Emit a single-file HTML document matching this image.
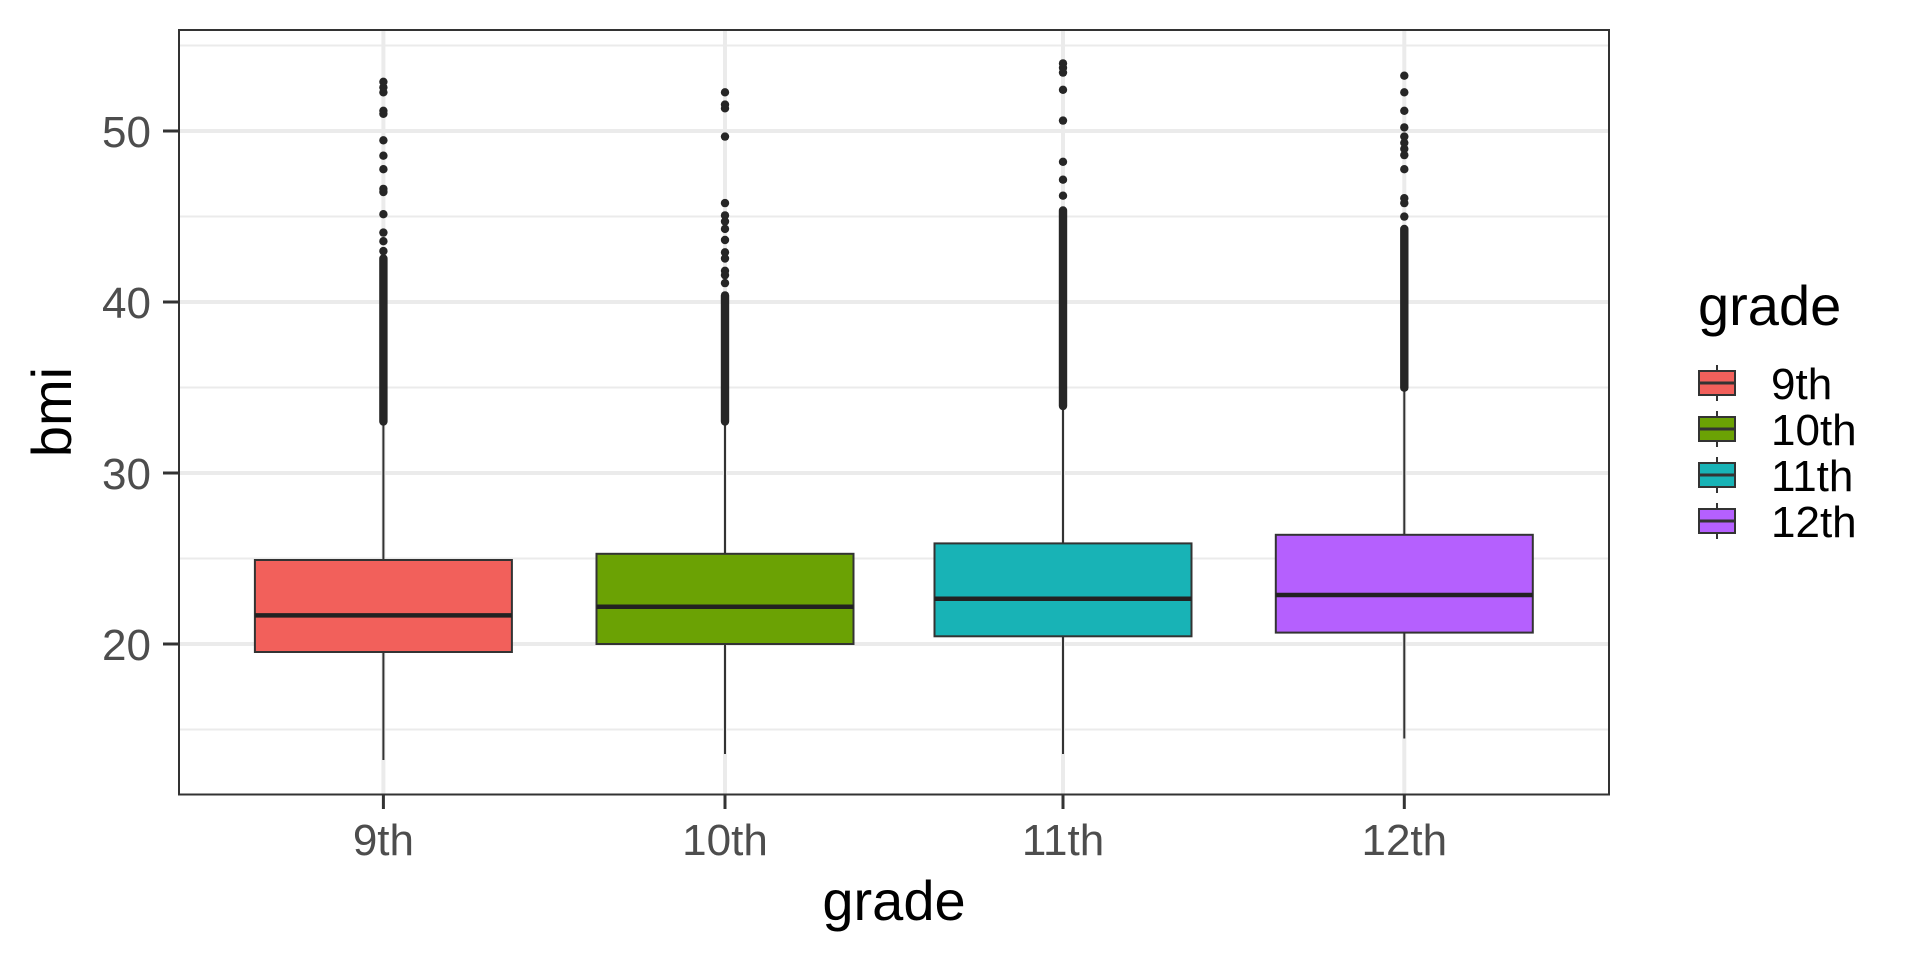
<!DOCTYPE html>
<html><head><meta charset="utf-8"><style>html,body{margin:0;padding:0;background:#fff}svg{display:block}</style></head><body>
<svg width="1920" height="960" xmlns="http://www.w3.org/2000/svg" font-family="Liberation Sans, Arial, sans-serif">
<rect width="1920" height="960" fill="#fff"/>
<g stroke="#ebebeb" stroke-width="2">
<line x1="179" x2="1609" y1="45.5" y2="45.5"/><line x1="179" x2="1609" y1="216.5" y2="216.5"/><line x1="179" x2="1609" y1="387.5" y2="387.5"/><line x1="179" x2="1609" y1="558.5" y2="558.5"/><line x1="179" x2="1609" y1="729.5" y2="729.5"/>
</g>
<g stroke="#ebebeb" stroke-width="4">
<line x1="179" x2="1609" y1="131" y2="131"/><line x1="179" x2="1609" y1="302" y2="302"/><line x1="179" x2="1609" y1="473" y2="473"/><line x1="179" x2="1609" y1="644" y2="644"/>
<line y1="30" y2="794" x1="383.4" x2="383.4"/><line y1="30" y2="794" x1="725" x2="725"/><line y1="30" y2="794" x1="1063" x2="1063"/><line y1="30" y2="794" x1="1404.3" x2="1404.3"/>
</g>
<g stroke="#333" stroke-width="2">
<line x1="383.4" x2="383.4" y1="424.6" y2="760"/>
<line x1="725" x2="725" y1="418.5" y2="754"/>
<line x1="1063" x2="1063" y1="406" y2="754"/>
<line x1="1404.3" x2="1404.3" y1="387.7" y2="738.5"/>
</g>
<g stroke="#333" stroke-width="2">
<rect x="254.9" y="560" width="257" height="92" fill="#F2605B"/>
<rect x="596.5" y="553.8" width="257" height="90.2" fill="#6BA204"/>
<rect x="934.5" y="543.4" width="257" height="92.9" fill="#18B3B6"/>
<rect x="1275.8" y="534.8" width="257" height="97.8" fill="#B560FE"/>
</g>
<g stroke="#222" stroke-width="4.5">
<line x1="254.9" x2="511.9" y1="615.4" y2="615.4"/>
<line x1="596.5" x2="853.5" y1="606.8" y2="606.8"/>
<line x1="934.5" x2="1191.5" y1="598.8" y2="598.8"/>
<line x1="1275.8" x2="1532.8" y1="595" y2="595"/>
</g>
<g stroke="#262626" stroke-width="8.4" stroke-linecap="round">
<line x1="383.4" x2="383.4" y1="258.5" y2="421.5"/>
<line x1="725" x2="725" y1="295.4" y2="421.5"/>
<line x1="1063" x2="1063" y1="210.5" y2="406"/>
<line x1="1404.3" x2="1404.3" y1="229" y2="387.7"/>
</g>
<g fill="#262626">
<circle cx="383.4" cy="81.8" r="4.2"/><circle cx="383.4" cy="87.4" r="4.2"/><circle cx="383.4" cy="92.3" r="4.2"/><circle cx="383.4" cy="110.8" r="4.2"/><circle cx="383.4" cy="113.8" r="4.2"/><circle cx="383.4" cy="140.3" r="4.2"/><circle cx="383.4" cy="155.7" r="4.2"/><circle cx="383.4" cy="169.2" r="4.2"/><circle cx="383.4" cy="188.9" r="4.2"/><circle cx="383.4" cy="192" r="4.2"/><circle cx="383.4" cy="214.2" r="4.2"/><circle cx="383.4" cy="232.6" r="4.2"/><circle cx="383.4" cy="241.2" r="4.2"/><circle cx="383.4" cy="251.1" r="4.2"/>
<circle cx="725" cy="92.3" r="4.2"/><circle cx="725" cy="104.6" r="4.2"/><circle cx="725" cy="108.3" r="4.2"/><circle cx="725" cy="136.6" r="4.2"/><circle cx="725" cy="203.1" r="4.2"/><circle cx="725" cy="215.4" r="4.2"/><circle cx="725" cy="221.5" r="4.2"/><circle cx="725" cy="228.9" r="4.2"/><circle cx="725" cy="240" r="4.2"/><circle cx="725" cy="252.3" r="4.2"/><circle cx="725" cy="258.5" r="4.2"/><circle cx="725" cy="270.8" r="4.2"/><circle cx="725" cy="275.1" r="4.2"/><circle cx="725" cy="283.1" r="4.2"/>
<circle cx="1063" cy="63.4" r="4.2"/><circle cx="1063" cy="67.7" r="4.2"/><circle cx="1063" cy="72.6" r="4.2"/><circle cx="1063" cy="89.8" r="4.2"/><circle cx="1063" cy="120.6" r="4.2"/><circle cx="1063" cy="161.8" r="4.2"/><circle cx="1063" cy="179.7" r="4.2"/><circle cx="1063" cy="195.7" r="4.2"/>
<circle cx="1404.3" cy="75.7" r="4.2"/><circle cx="1404.3" cy="92.3" r="4.2"/><circle cx="1404.3" cy="110.8" r="4.2"/><circle cx="1404.3" cy="127.4" r="4.2"/><circle cx="1404.3" cy="136.6" r="4.2"/><circle cx="1404.3" cy="142.8" r="4.2"/><circle cx="1404.3" cy="148.9" r="4.2"/><circle cx="1404.3" cy="155.1" r="4.2"/><circle cx="1404.3" cy="169.2" r="4.2"/><circle cx="1404.3" cy="198.2" r="4.2"/><circle cx="1404.3" cy="203.1" r="4.2"/><circle cx="1404.3" cy="216.6" r="4.2"/>
</g>
<rect x="179" y="30" width="1430" height="764.5" fill="none" stroke="#333" stroke-width="2"/>
<g stroke="#333" stroke-width="3">
<line x1="163" x2="179" y1="131" y2="131"/><line x1="163" x2="179" y1="302" y2="302"/><line x1="163" x2="179" y1="473" y2="473"/><line x1="163" x2="179" y1="644" y2="644"/>
<line y1="794" y2="809" x1="383.4" x2="383.4"/><line y1="794" y2="809" x1="725" x2="725"/><line y1="794" y2="809" x1="1063" x2="1063"/><line y1="794" y2="809" x1="1404.3" x2="1404.3"/>
</g>
<g fill="#4d4d4d" font-size="44" text-anchor="end">
<text x="151" y="147">50</text><text x="151" y="318">40</text><text x="151" y="489">30</text><text x="151" y="660">20</text>
</g>
<g fill="#4d4d4d" font-size="44" text-anchor="middle">
<text x="383.4" y="855">9th</text><text x="725" y="855">10th</text><text x="1063" y="855">11th</text><text x="1404.3" y="855">12th</text>
</g>
<text x="894" y="920" font-size="56" text-anchor="middle" fill="#000">grade</text>
<text transform="translate(71,412) rotate(-90)" font-size="56" text-anchor="middle" fill="#000">bmi</text>
<text x="1698" y="325" font-size="56" fill="#000">grade</text>
<g stroke="#333" stroke-width="2">
<line x1="1717" x2="1717" y1="365" y2="401"/><rect x="1699" y="371" width="36" height="24" fill="#F2605B"/><line x1="1699" x2="1735" y1="383" y2="383" stroke-width="3"/>
<line x1="1717" x2="1717" y1="411" y2="447"/><rect x="1699" y="417" width="36" height="24" fill="#6BA204"/><line x1="1699" x2="1735" y1="429" y2="429" stroke-width="3"/>
<line x1="1717" x2="1717" y1="457" y2="493"/><rect x="1699" y="463" width="36" height="24" fill="#18B3B6"/><line x1="1699" x2="1735" y1="475" y2="475" stroke-width="3"/>
<line x1="1717" x2="1717" y1="503" y2="539"/><rect x="1699" y="509" width="36" height="24" fill="#B560FE"/><line x1="1699" x2="1735" y1="521" y2="521" stroke-width="3"/>
</g>
<g fill="#000" font-size="44">
<text x="1771" y="399">9th</text><text x="1771" y="445">10th</text><text x="1771" y="491">11th</text><text x="1771" y="537">12th</text>
</g>
</svg>
</body></html>
